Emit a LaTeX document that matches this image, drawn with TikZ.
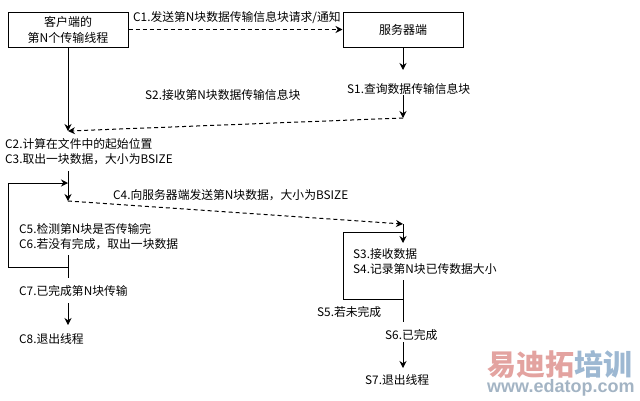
\documentclass[tikz,border=0pt]{standalone}
\usepackage{fontspec}
\setmainfont{Noto Sans CJK SC}
\newfontfamily\wmfont{Liberation Sans}
\usetikzlibrary{positioning, arrows.meta}
\definecolor{wmred}{HTML}{E3A3A0}
\definecolor{wmblue}{HTML}{9DB8D2}
\definecolor{wmgray}{HTML}{A3B4C4}
\tikzset{
  party/.style={draw, line width=1pt, minimum width=120pt, minimum height=35pt, align=center, font=\fontsize{12}{16}\selectfont, inner sep=0pt},
  note/.style={anchor=west, align=left, inner sep=0pt, font=\fontsize{11.8}{15}\selectfont},
  flow/.style={-{Stealth[length=7pt, width=7pt]}, line width=1pt},
  msg/.style={flow, dash pattern=on 4pt off 3pt},
  loopline/.style={line width=1pt},
}
\begin{document}
\begin{tikzpicture}[x=1pt, y=-1pt]
  \useasboundingbox (0,0) rectangle (640,400);
  \node[party] (client) at (68,29.5) {客户端的\\第N个传输线程};
  \node[party] (server) at (403,29.5) {服务器端};
  \node[note] (c1) at (133,18) {C1.发送第N块数据传输信息块请求/通知};
  \node[note] (s1) at (347,89) {S1.查询数据传输信息块};
  \node[note] (s2) at (145,95) {S2.接收第N块数据传输信息块};
  \node[note] (c23) at (5,151.5) {C2.计算在文件中的起始位置\\C3.取出一块数据，大小为BSIZE};
  \node[note] (c4) at (113,195) {C4.向服务器端发送第N块数据，大小为BSIZE};
  \node[note] (c56) at (19,237) {C5.检测第N块是否传输完\\C6.若没有完成，取出一块数据};
  \node[note] (c7) at (19,291) {C7.已完成第N块传输};
  \node[note] (c8) at (19,339) {C8.退出线程};
  \node[note] (s34) at (353,261.5) {S3.接收数据\\S4.记录第N块已传数据大小};
  \node[note] (s5) at (317,312) {S5.若未完成};
  \node[note] (s6) at (385,335) {S6.已完成};
  \node[note] (s7) at (365,380) {S7.退出线程};
  \coordinate (cIn) at (68,131);
  \coordinate (cTop) at (68,171);
  \coordinate (cJoin) at (68,183);
  \coordinate (cSend) at (68,201);
  \coordinate (cBack) at (68,255);
  \coordinate (cTurn) at (68,267);
  \coordinate (cDone) at (68,278);
  \coordinate (cOut) at (68,303);
  \coordinate (cEnd) at (68,325);
  \coordinate (sDown) at (403,70);
  \coordinate (sOut) at (403,95);
  \coordinate (sReply) at (403,118);
  \coordinate (sRecv) at (403,224);
  \coordinate (sJoin) at (403,232);
  \coordinate (sData) at (403,243);
  \coordinate (sBack) at (403,280);
  \coordinate (sTurn) at (403,299);
  \coordinate (sDone) at (403,322);
  \coordinate (sOn) at (403,342);
  \coordinate (sEnd) at (403,368);
  \foreach \a/\b in {client/cIn, cTop/cSend, cOut/cEnd, server/sDown, sOut/sReply, sRecv/sData, sOn/sEnd} \draw[flow] (\a) -- (\b);
  \foreach \a/\b in {cBack/cDone, sBack/sDone} \draw[loopline] (\a) -- (\b);
  \draw[msg] (client) -- (server);
  \draw[msg] (sReply) -- (cIn);
  \draw[msg] (cSend) -- (sRecv);
  \draw[flow] (cTurn) -| (8,183) -- (cJoin);
  \draw[loopline] (sTurn) -| (343,232) -- (sJoin);
  \node[anchor=west, inner sep=0pt, font=\fontsize{29}{29}\selectfont\bfseries] (wm) at (487,365) {\textcolor{wmred}{易迪拓}\textcolor{wmblue}{培训}};
  \node[anchor=west, inner sep=0pt, text=wmgray, font=\wmfont\fontsize{18}{18}\selectfont\bfseries] (url) at (487,388) {www.edatop.com};
\end{tikzpicture}
\end{document}
